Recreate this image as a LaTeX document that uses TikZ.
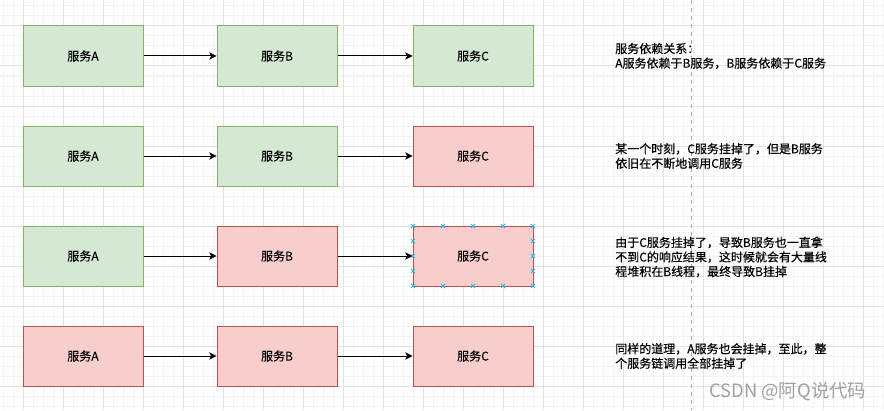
\documentclass[tikz,border=0pt]{standalone}
\usepackage{fontspec}
\setmainfont{Noto Sans CJK SC}[FakeBold=0.35]
\newfontfamily\wmfont{Noto Sans CJK SC}
\usetikzlibrary{arrows.meta}
\definecolor{gfill}{HTML}{D5E8D4}
\definecolor{gline}{HTML}{82B366}
\definecolor{rfill}{HTML}{F8CECC}
\definecolor{rline}{HTML}{B85450}
\definecolor{minorg}{HTML}{F3F3F3}
\definecolor{majorg}{HTML}{E2E2E2}
\definecolor{selb}{HTML}{29B6F2}
\definecolor{wmark}{HTML}{A0A0A0}
\begin{document}
\begin{tikzpicture}[x=0.75pt,y=-0.75pt,
  svc/.style={draw, line width=0.75pt, minimum width=90pt, minimum height=45pt, inner sep=0pt,
              font=\fontsize{9pt}{10.8pt}\selectfont},
  okbox/.style={svc, fill=gfill, draw=gline},
  downbox/.style={svc, fill=rfill, draw=rline},
  link/.style={-{Stealth[length=5.5pt,width=5.5pt,inset=1.5pt]}, line width=0.75pt},
  note/.style={anchor=west, align=left, inner sep=0pt, font=\fontsize{9pt}{10.9pt}\selectfont},
  minorline/.style={draw=minorg, line width=0.75pt},
  majorline/.style={draw=majorg, line width=0.75pt},
  selmark/.style={draw=selb, line width=0.6pt}
]
\useasboundingbox (0,0) rectangle (884,410);
\fill[white] (0,0) rectangle (884,410);
% grid
\foreach \x in {3,13,...,883} \draw[minorline] (\x,0) -- (\x,410);
\foreach \y in {6,16,...,406} \draw[minorline] (0,\y) -- (884,\y);
\foreach \x in {23,63,...,863} \draw[majorline] (\x,0) -- (\x,410);
\foreach \y in {26,66,...,386} \draw[majorline] (0,\y) -- (884,\y);
% dashed divider
\draw[draw=black!35, line width=0.75pt, dash pattern=on 3pt off 3pt] (691,0) -- (691,410);

% row 1
\node[okbox] (a1) at (83,56) {服务A};
\node[okbox] (b1) at (277,56) {服务B};
\node[okbox] (c1) at (473,56) {服务C};
\draw[link] (a1) -- (b1);
\draw[link] (b1) -- (c1);
\node[note] (n1) at (615,56) {服务依赖关系：\\A服务依赖于B服务，B服务依赖于C服务};

% row 2
\node[okbox] (a2) at (83,156) {服务A};
\node[okbox] (b2) at (277,156) {服务B};
\node[downbox] (c2) at (473,156) {服务C};
\draw[link] (a2) -- (b2);
\draw[link] (b2) -- (c2);
\node[note] (n2) at (615,156) {某一个时刻，C服务挂掉了，但是B服务\\依旧在不断地调用C服务};

% row 3
\node[okbox] (a3) at (83,256) {服务A};
\node[downbox] (b3) at (277,256) {服务B};
\node[downbox] (c3) at (473,256) {服务C};
\draw[link] (a3) -- (b3);
\draw[link] (b3) -- (c3);
\node[note] (n3) at (615,257) {由于C服务挂掉了，导致B服务也一直拿\\不到C的响应结果，这时候就会有大量线\\程堆积在B线程，最终导致B挂掉};
% selection markers on c3
\foreach \x in {413,443,473,503,533} {
  \foreach \y in {226,286} {
    \draw[selmark] (\x-2,\y-2) -- (\x+2,\y+2) (\x-2,\y+2) -- (\x+2,\y-2);
  }
}
\foreach \y in {241,256,271} {
  \foreach \x in {413,533} {
    \draw[selmark] (\x-2,\y-2) -- (\x+2,\y+2) (\x-2,\y+2) -- (\x+2,\y-2);
  }
}

% row 4
\node[downbox] (a4) at (83,356) {服务A};
\node[downbox] (b4) at (277,356) {服务B};
\node[downbox] (c4) at (473,356) {服务C};
\draw[link] (a4) -- (b4);
\draw[link] (b4) -- (c4);
\node[note] (n4) at (615,356) {同样的道理，A服务也会挂掉，至此，整\\个服务链调用全部挂掉了};

% watermark
\node[anchor=west, inner sep=0pt, text=wmark, font=\wmfont\fontsize{13.8pt}{16pt}\selectfont] (wm) at (709,391) {CSDN @阿Q说代码};
\end{tikzpicture}
\end{document}
